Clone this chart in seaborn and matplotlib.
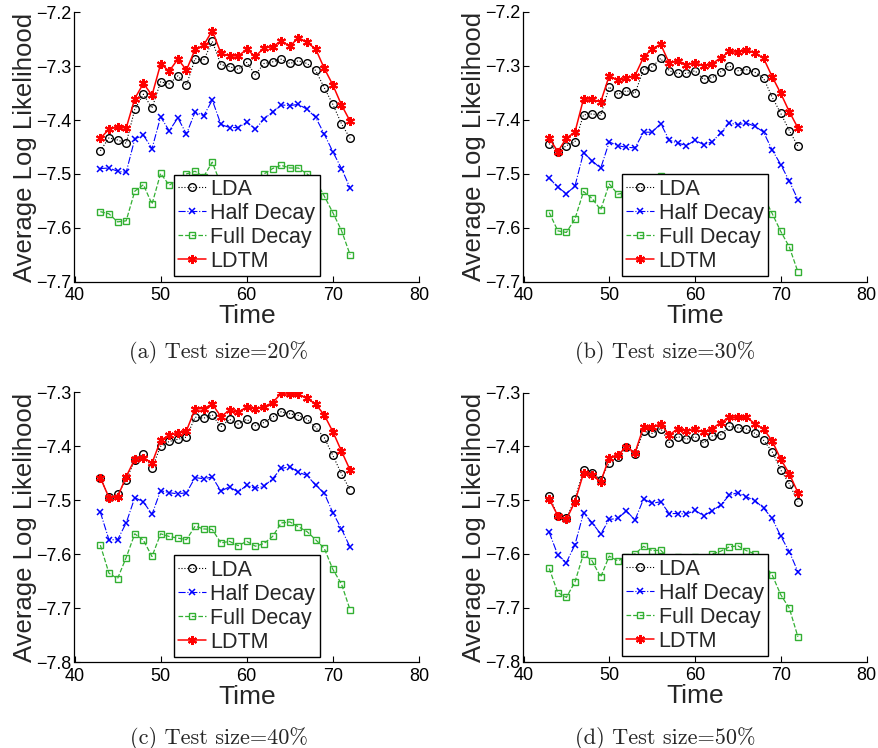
import matplotlib
matplotlib.use("Agg")
import matplotlib.pyplot as plt
import seaborn as sns

# Time steps shared by all four panels
TIME = list(range(43, 73))

# (a) Test size = 20%
LDA_20 = [-7.457, -7.433, -7.437, -7.443, -7.380, -7.352, -7.378, -7.329, -7.333, -7.318,
          -7.335, -7.286, -7.289, -7.254, -7.297, -7.301, -7.306, -7.293, -7.316, -7.295,
          -7.292, -7.287, -7.295, -7.290, -7.295, -7.308, -7.340, -7.371, -7.407, -7.434]
HALF_20 = [-7.490, -7.489, -7.495, -7.497, -7.435, -7.428, -7.453, -7.394, -7.420, -7.396,
           -7.426, -7.385, -7.392, -7.363, -7.408, -7.414, -7.414, -7.404, -7.417, -7.398,
           -7.385, -7.372, -7.373, -7.371, -7.380, -7.395, -7.426, -7.459, -7.490, -7.526]
FULL_20 = [-7.570, -7.574, -7.589, -7.587, -7.532, -7.520, -7.556, -7.499, -7.521, -7.510,
           -7.500, -7.495, -7.505, -7.478, -7.520, -7.520, -7.520, -7.510, -7.520, -7.500,
           -7.490, -7.484, -7.489, -7.489, -7.500, -7.512, -7.541, -7.572, -7.605, -7.650]
LDTM_20 = [-7.434, -7.417, -7.412, -7.415, -7.360, -7.332, -7.354, -7.296, -7.309, -7.287,
           -7.307, -7.269, -7.261, -7.234, -7.276, -7.281, -7.281, -7.269, -7.282, -7.266,
           -7.264, -7.253, -7.263, -7.247, -7.256, -7.268, -7.304, -7.335, -7.372, -7.402]

# (b) Test size = 30%
LDA_30 = [-7.444, -7.460, -7.448, -7.441, -7.391, -7.389, -7.392, -7.339, -7.353, -7.346,
          -7.351, -7.307, -7.302, -7.286, -7.309, -7.314, -7.314, -7.309, -7.325, -7.322,
          -7.311, -7.300, -7.309, -7.307, -7.312, -7.323, -7.358, -7.388, -7.420, -7.449]
HALF_30 = [-7.508, -7.525, -7.537, -7.523, -7.461, -7.476, -7.490, -7.441, -7.448, -7.451,
           -7.452, -7.423, -7.423, -7.407, -7.438, -7.443, -7.448, -7.438, -7.446, -7.441,
           -7.424, -7.406, -7.409, -7.406, -7.412, -7.423, -7.456, -7.483, -7.514, -7.548]
FULL_30 = [-7.572, -7.606, -7.609, -7.584, -7.533, -7.546, -7.567, -7.519, -7.538, -7.535,
           -7.530, -7.520, -7.510, -7.505, -7.530, -7.535, -7.540, -7.530, -7.540, -7.535,
           -7.520, -7.510, -7.515, -7.510, -7.520, -7.542, -7.574, -7.607, -7.636, -7.682]
LDTM_30 = [-7.434, -7.459, -7.434, -7.423, -7.361, -7.362, -7.367, -7.318, -7.327, -7.323,
           -7.318, -7.284, -7.268, -7.260, -7.295, -7.290, -7.298, -7.294, -7.300, -7.296,
           -7.285, -7.273, -7.275, -7.270, -7.276, -7.286, -7.320, -7.351, -7.385, -7.415]

# (c) Test size = 40%
LDA_40 = [-7.458, -7.494, -7.489, -7.462, -7.426, -7.415, -7.440, -7.400, -7.391, -7.387,
          -7.383, -7.346, -7.348, -7.342, -7.364, -7.350, -7.359, -7.350, -7.362, -7.356,
          -7.346, -7.336, -7.340, -7.343, -7.350, -7.365, -7.384, -7.417, -7.451, -7.481]
HALF_40 = [-7.522, -7.573, -7.573, -7.542, -7.495, -7.503, -7.526, -7.482, -7.486, -7.488,
           -7.486, -7.458, -7.460, -7.457, -7.483, -7.475, -7.485, -7.472, -7.478, -7.474,
           -7.460, -7.441, -7.438, -7.448, -7.454, -7.472, -7.487, -7.523, -7.553, -7.587]
FULL_40 = [-7.583, -7.635, -7.645, -7.606, -7.562, -7.574, -7.604, -7.562, -7.567, -7.570,
           -7.573, -7.548, -7.553, -7.554, -7.579, -7.576, -7.584, -7.576, -7.585, -7.580,
           -7.567, -7.542, -7.540, -7.549, -7.558, -7.573, -7.589, -7.628, -7.655, -7.703]
LDTM_40 = [-7.458, -7.495, -7.494, -7.456, -7.424, -7.421, -7.431, -7.389, -7.379, -7.376,
           -7.371, -7.331, -7.330, -7.322, -7.345, -7.333, -7.337, -7.327, -7.331, -7.327,
           -7.319, -7.302, -7.304, -7.304, -7.311, -7.322, -7.342, -7.373, -7.409, -7.444]

# (d) Test size = 50%
LDA_50 = [-7.493, -7.529, -7.534, -7.498, -7.444, -7.449, -7.462, -7.431, -7.420, -7.401,
          -7.415, -7.372, -7.376, -7.367, -7.393, -7.382, -7.387, -7.382, -7.394, -7.381,
          -7.379, -7.363, -7.366, -7.368, -7.376, -7.389, -7.410, -7.444, -7.470, -7.503]
HALF_50 = [-7.560, -7.602, -7.616, -7.583, -7.524, -7.542, -7.563, -7.536, -7.534, -7.520,
           -7.537, -7.498, -7.506, -7.503, -7.525, -7.525, -7.526, -7.519, -7.529, -7.520,
           -7.509, -7.491, -7.486, -7.494, -7.501, -7.515, -7.534, -7.567, -7.596, -7.633]
FULL_50 = [-7.627, -7.672, -7.681, -7.652, -7.600, -7.613, -7.643, -7.604, -7.613, -7.605,
           -7.600, -7.586, -7.594, -7.593, -7.610, -7.605, -7.610, -7.605, -7.610, -7.600,
           -7.595, -7.587, -7.585, -7.594, -7.600, -7.619, -7.639, -7.676, -7.701, -7.754]
LDTM_50 = [-7.498, -7.529, -7.536, -7.503, -7.450, -7.454, -7.466, -7.421, -7.416, -7.401,
           -7.412, -7.364, -7.365, -7.358, -7.379, -7.367, -7.372, -7.368, -7.374, -7.367,
           -7.356, -7.346, -7.346, -7.346, -7.358, -7.368, -7.390, -7.424, -7.451, -7.486]

CAPTIONS = ["(a) Test size=20%", "(b) Test size=30%", "(c) Test size=40%", "(d) Test size=50%"]
PANELS = [
    (LDA_20, HALF_20, FULL_20, LDTM_20),
    (LDA_30, HALF_30, FULL_30, LDTM_30),
    (LDA_40, HALF_40, FULL_40, LDTM_40),
    (LDA_50, HALF_50, FULL_50, LDTM_50),
]
YLIMS = [(-7.7, -7.2), (-7.7, -7.2), (-7.8, -7.3), (-7.8, -7.3)]

sns.set_style("white")
plt.rcParams["font.family"] = ["Liberation Sans", "DejaVu Sans"]

GREEN = "#33b033"
STYLES = [
    dict(label="LDA", color="black", linestyle=":", marker="o", ms=5.5, mfc="none",
         mec="black", mew=1.0, lw=0.8),
    dict(label="Half Decay", color="blue", linestyle="-.", marker="x", ms=4.5,
         mec="blue", mew=1.1, lw=0.8),
    dict(label="Full Decay", color=GREEN, linestyle="--", marker="s", ms=5, mfc="none",
         mec=GREEN, mew=1.0, lw=0.9),
    dict(label="LDTM", color="red", linestyle="-", marker=(6, 2, 0), ms=6.5,
         mec="red", mew=1.5, lw=1.1),
]

fig = plt.figure(figsize=(8.79, 7.48), dpi=100)
W, H = 879, 748
# axes boxes in pixels: left, top, right, bottom
BOXES = [(74.5, 12.3, 419, 281.7), (523.5, 12, 866.5, 281.5),
         (74.5, 392.3, 419, 662.3), (523.5, 392.5, 866.5, 661.5)]
CAP_POS = [(219, 352), (665, 352), (219, 738), (665, 738)]

for i, (series, box, ylim) in enumerate(zip(PANELS, BOXES, YLIMS)):
    l, t, r, b = box
    ax = fig.add_axes([l / W, 1 - b / H, (r - l) / W, (b - t) / H])
    for y, st in zip(series, STYLES):
        st = dict(st)
        label = st.pop("label")
        sns.lineplot(x=TIME, y=y, ax=ax, label=label, **st)
    ax.set_xlim(40, 80)
    ax.set_ylim(*ylim)
    ax.set_xticks([40, 50, 60, 70, 80])
    lo, hi = ylim
    ax.set_yticks([round(lo + 0.1 * k, 1) for k in range(6)])
    ax.tick_params(direction="in", length=4, width=0.8, labelsize=13, pad=2,
                   left=True, bottom=True, colors="black")
    ax.tick_params(axis="x", pad=4)
    for side in ["top", "right"]:
        ax.spines[side].set_visible(False)
    for side in ["left", "bottom"]:
        ax.spines[side].set_color("black")
        ax.spines[side].set_linewidth(0.9)
    ax.set_xlabel("Time", fontsize=19, labelpad=0)
    ax.set_ylabel("Average Log Likelihood", fontsize=18.5)
    ax.yaxis.set_label_coords(-0.11, 0.5)
    leg = ax.legend(loc="lower center", fontsize=15.5, frameon=True, fancybox=False,
                    handlelength=1.3, handletextpad=0.2, borderpad=0.2,
                    labelspacing=0.14, borderaxespad=0.25, framealpha=1)
    leg.get_frame().set_edgecolor("black")
    leg.get_frame().set_linewidth(1.0)
    fig.text(CAP_POS[i][0] / W, 1 - CAP_POS[i][1] / H, CAPTIONS[i], ha="center",
             va="center", fontsize=16, family=["cmr10", "DejaVu Serif"])

fig.savefig("out.png", dpi=100)
